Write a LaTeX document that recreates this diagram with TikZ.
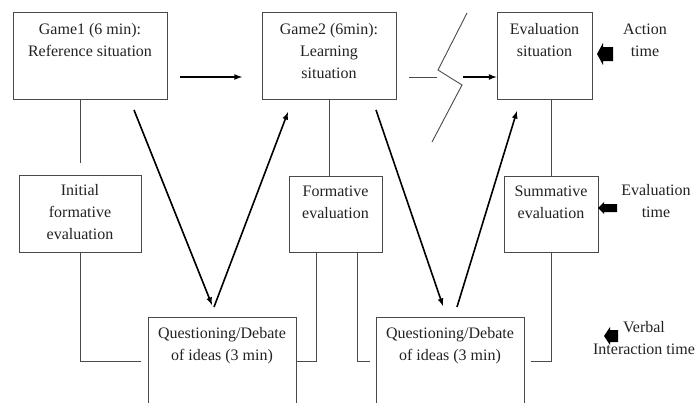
\documentclass[tikz,border=0pt]{standalone}
\usepackage{fontspec}
\setmainfont{Liberation Serif}
\usetikzlibrary{positioning}
\definecolor{boxgray}{HTML}{4A4A4A}
\definecolor{txtgray}{HTML}{222222}
\begin{document}
\begin{tikzpicture}[x=1pt,y=-1pt,
	stage/.style 2 args={draw=boxgray,line width=0.9pt,minimum width=#1,minimum height=#2,inner sep=0pt},
	lbl/.style={align=center,font=\fontsize{16}{22}\selectfont,text=txtgray,inner sep=0pt},
	wire/.style={draw=boxgray,line width=0.9pt},
	flow/.style={line width=1.6pt,-latex},
	blk/.style={fill=black}]
	\useasboundingbox (0,0) rectangle (696,402);
	\clip (0,0) rectangle (696,402);
	%situations
	\node[stage={154}{87}] (game1) at (90,55.5) {};
	\node[stage={134}{87}] (game2) at (329,55.5) {};
	\node[stage={95}{87}] (evsit) at (544.5,55.5) {};
	\node[lbl,anchor=north,below=11.5pt of game1.north] (t1) {Game1 (6 min):\\Reference situation};
	\node[lbl,anchor=north,below=11.5pt of game2.north] (t2) {Game2 (6min):\\Learning\\situation};
	\node[lbl,anchor=north,below=11.5pt of evsit.north] (t3) {Evaluation\\situation};
	%evaluations
	\node[stage={122}{77}] (init) at (80,213.5) {};
	\node[stage={93}{76}] (form) at (335.5,214) {};
	\node[stage={94}{76}] (summ) at (551,214) {};
	\node[lbl,anchor=north,below=10pt of init.north] (t4) {Initial\\formative\\evaluation};
	\node[lbl,anchor=north,below=10pt of form.north] (t5) {Formative\\evaluation};
	\node[lbl,anchor=north,below=10pt of summ.north] (t6) {Summative\\evaluation};
	%debates, open at the bottom
	\node[stage={148}{113}] (quest1) at (222,373.5) {};
	\node[stage={148}{113}] (quest2) at (450,373.5) {};
	\node[lbl,anchor=north,below=11pt of quest1.north] (t7) {Questioning/Debate\\of ideas (3 min)};
	\node[lbl,anchor=north,below=11pt of quest2.north] (t8) {Questioning/Debate\\of ideas (3 min)};
	%times
	\node[lbl,anchor=north] (act) at (645,24) {Action\\time};
	\node[lbl,anchor=north] (evt) at (656,184) {Evaluation\\time};
	\node[lbl,anchor=north] (verb) at (644,321) {Verbal\\Interaction time};
	%vertical links
	\draw[wire] (init.north |- game1.south) -- ([yshift=12pt]init.north);
	\draw[wire] (game2.south) -- (game2.south |- form.north);
	\draw[wire] (summ.north |- evsit.south) -- (summ.north);
	\coordinate (j1) at (141,361);
	\coordinate (j2) at (297,361);
	\coordinate (j3) at (370,361);
	\coordinate (j4) at (531,361);
	\draw[wire] (init.south) |- (j1);
	\draw[wire] ([xshift=-19.5pt]form.south) |- (j2);
	\draw[wire] ([xshift=21.5pt]form.south) |- (j3);
	\draw[wire] (summ.south) |- (j4);
	%arrows
	\coordinate (h1) at (180,77);
	\coordinate (h2) at (242,77);
	\draw[flow] (h1) -- (h2);
	\coordinate (d1) at (134,110);
	\coordinate (d2) at (212,305);
	\coordinate (d3) at (214,307);
	\coordinate (d4) at (288,112);
	\coordinate (d5) at (376,110);
	\coordinate (d6) at (443,306);
	\coordinate (d7) at (457,307);
	\coordinate (d8) at (517,111);
	\draw[flow] (d1) -- (d2);
	\draw[flow] (d3) -- (d4);
	\draw[flow] (d5) -- (d6);
	\draw[flow] (d7) -- (d8);
	%time break
	\draw[wire] (409,77) -- (437,77);
	\draw[wire] (467,13) -- (438,70) -- (462,85) -- (432,142);
	\coordinate (b1) at (463,77);
	\draw[flow] (b1) -- (evsit.west |- b1);
	%block arrows
	\fill[blk] (597,54) -- (603,43) -- (603,47) -- (613,47) -- (613,61) -- (603,61) -- (603,65) -- cycle;
	\fill[blk] (598,208) -- (604,202) -- (604,204) -- (617,204) -- (617,212) -- (604,212) -- (604,214) -- cycle;
	\fill[blk] (604,336) -- (610,327) -- (610,330) -- (618,330) -- (618,342) -- (610,342) -- (610,345) -- cycle;
\end{tikzpicture}
\end{document}
